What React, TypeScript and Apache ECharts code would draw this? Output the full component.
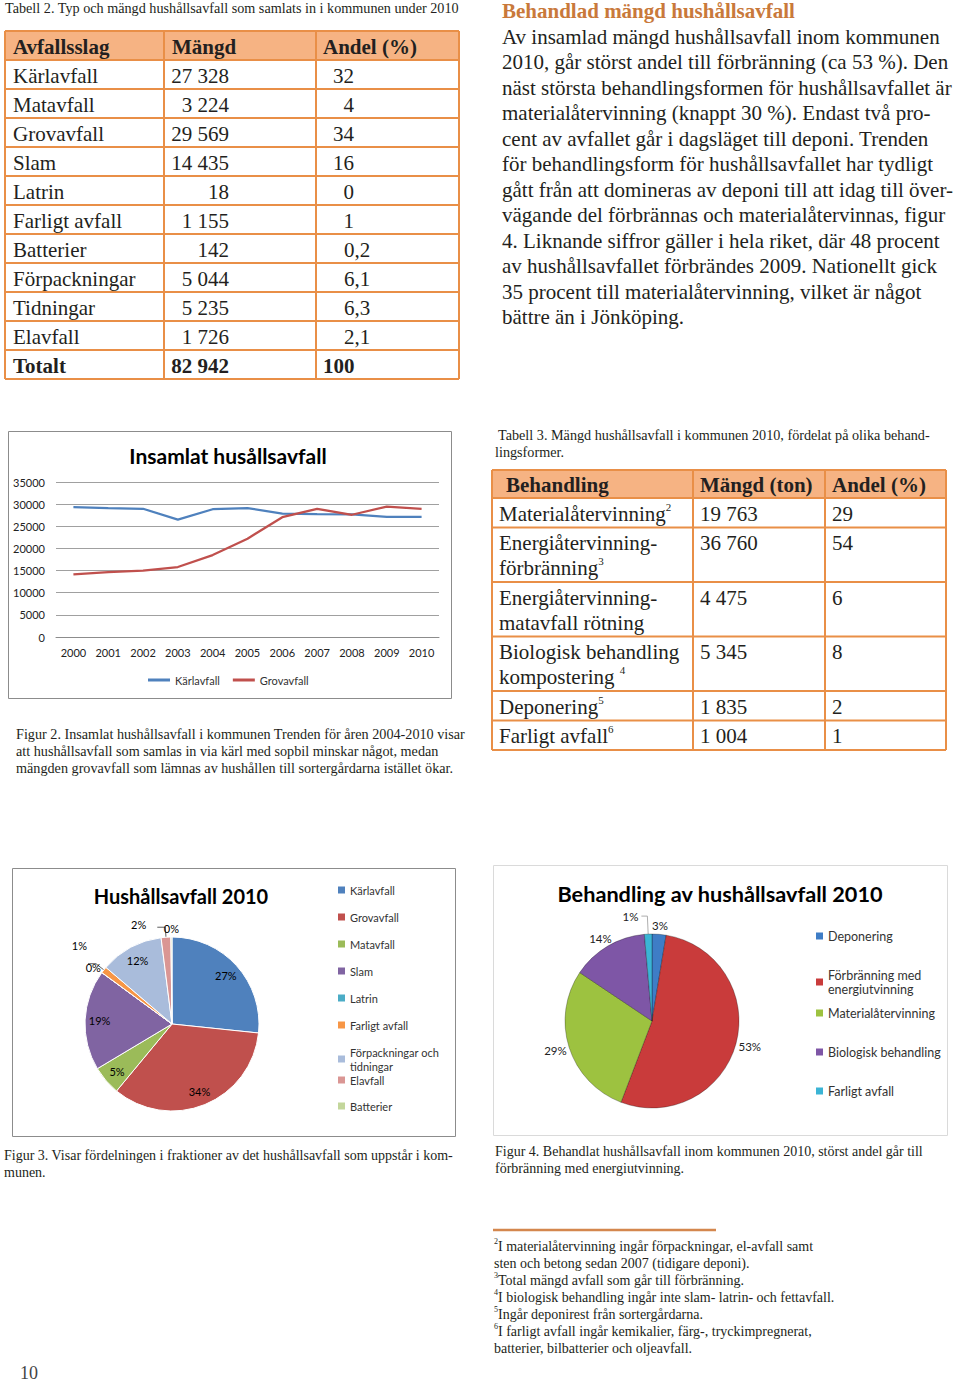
import React, { useEffect, useRef } from "react";
import * as echarts from "echarts";

const SERIF = '"Liberation Serif", "Times New Roman", serif';
const SANS = 'Lato, "Open Sans", sans-serif';
const INK = "#231f20";
const ORANGE_LINE = "#e98f47";
const ORANGE_FILL = "#f6b383";
const HEADING = "#c9793b";

// ---------- Tabell 2 ----------
const t2Caption = "Tabell 2. Typ och mängd hushållsavfall som samlats in i kommunen under 2010";
const t2Header = ["Avfallsslag", "Mängd", "Andel (%)"];
const t2Types = ["Kärlavfall", "Matavfall", "Grovavfall", "Slam", "Latrin", "Farligt avfall", "Batterier", "Förpackningar", "Tidningar", "Elavfall"];
const t2Amounts = ["27 328", "3 224", "29 569", "14 435", "18", "1 155", "142", "5 044", "5 235", "1 726"];
const t2Shares = ["32", "4", "34", "16", "0", "1", "0,2", "6,1", "6,3", "2,1"];
const t2Total = ["Totalt", "82 942", "100"];

// ---------- Side text ----------
const sideHeading = "Behandlad mängd hushållsavfall";
const sideLines = [
  "Av insamlad mängd hushållsavfall inom kommunen",
  "2010, går störst andel till förbränning (ca 53 %). Den",
  "näst största behandlingsformen för hushållsavfallet är",
  "materialåtervinning (knappt 30 %). Endast två pro-",
  "cent av avfallet går i dagsläget till deponi. Trenden",
  "för behandlingsform för hushållsavfallet har tydligt",
  "gått från att domineras av deponi till att idag till över-",
  "vägande del förbrännas och materialåtervinnas, figur",
  "4. Liknande siffror gäller i hela riket, där 48 procent",
  "av hushållsavfallet förbrändes 2009. Nationellt gick",
  "35 procent till materialåtervinning, vilket är något",
  "bättre än i Jönköping.",
];

// ---------- Figur 2 (line chart) ----------
const lineTitle = "Insamlat husållsavfall";
const years = ["2000", "2001", "2002", "2003", "2004", "2005", "2006", "2007", "2008", "2009", "2010"];
const lineNames = ["Kärlavfall", "Grovavfall"];
const karlavfall = [29300, 29100, 28950, 26500, 28850, 29100, 27850, 27750, 27700, 27150, 27100];
const grovavfall = [14150, 14650, 15000, 15800, 18500, 22200, 27050, 28950, 27600, 29450, 28950];
const lineColors = ["#4f81bd", "#c0504d"];
const fig2Caption = [
  "Figur 2. Insamlat hushållsavfall i kommunen Trenden för åren 2004-2010 visar",
  "att hushållsavfall som samlas in via kärl med sopbil minskar något, medan",
  "mängden grovavfall som lämnas av hushållen till sortergårdarna istället ökar.",
];

// ---------- Tabell 3 ----------
const t3Caption = ["Tabell 3. Mängd hushållsavfall i kommunen 2010, fördelat på olika behand-", "lingsformer."];
const t3Header = ["Behandling", "Mängd (ton)", "Andel (%)"];
const t3Treat = [
  ["Materialåtervinning"],
  ["Energiåtervinning-", "förbränning"],
  ["Energiåtervinning-", "matavfall rötning"],
  ["Biologisk behandling", "kompostering "],
  ["Deponering"],
  ["Farligt avfall"],
];
const t3Sup = ["2", "3", "", "4", "5", "6"];
const t3Amounts = ["19 763", "36 760", "4 475", "5 345", "1 835", "1 004"];
const t3Shares = ["29", "54", "6", "8", "2", "1"];

// ---------- Figur 3 (pie) ----------
const pie1Title = "Hushållsavfall 2010";
const pie1Names = ["Kärlavfall", "Grovavfall", "Matavfall", "Slam", "Latrin", "Farligt avfall", "Förpackningar och\ntidningar", "Elavfall", "Batterier"];
const pie1Values = [26.6, 34.3, 5.4, 18.6, 0.02, 1.2, 11.7, 1.8, 0.2];
const pie1Colors = ["#4f81bd", "#c0504d", "#9bbb59", "#8064a2", "#4bacc6", "#f79646", "#a9bcdb", "#da9694", "#c3d69b"];
const fig3Caption = ["Figur 3. Visar fördelningen i fraktioner av det hushållsavfall som uppstår i kom-", "munen."];

// ---------- Figur 4 (pie) ----------
const pie2Title = "Behandling av hushållsavfall 2010";
const pie2Names = ["Deponering", "Förbränning med\nenergiutvinning", "Materialåtervinning", "Biologisk behandling", "Farligt avfall"];
const pie2Values = [2.6, 53.2, 28.6, 14.2, 1.4];
const pie2Colors = ["#3e7dc6", "#c93b3b", "#9dc240", "#7e56a6", "#3bb4d5"];
const fig4Caption = ["Figur 4. Behandlat hushållsavfall inom kommunen 2010, störst andel går till", "förbränning med energiutvinning."];

// ---------- Footnotes ----------
const footnotes = [
  { sup: "2", lines: ["I materialåtervinning ingår förpackningar, el-avfall samt", "sten och betong sedan 2007 (tidigare deponi)."] },
  { sup: "3", lines: ["Total mängd avfall som går till förbränning."] },
  { sup: "4", lines: ["I biologisk behandling ingår inte slam- latrin- och fettavfall."] },
  { sup: "5", lines: ["Ingår deponirest från sortergårdarna."] },
  { sup: "6", lines: ["I farligt avfall ingår kemikalier, färg-, tryckimpregnerat,", "batterier, bilbatterier och oljeavfall."] },
];
const pageNumber = "10";

// layout constants (not data)
const PIE1 = { cx: 172, cy: 1024, r: 87 };
const PIE2 = { cx: 652, cy: 1021, r: 87 };
const pie1LeaderNudge: Record<number, number[]> = { 5: [1, -18], 7: [-9, -3] };

// Places a label just outside the slice's mid-angle (Excel "outside end" style)
function outsidePos(p: { cx: number; cy: number; r: number }, values: number[], idx: number, gap: number, w: number, h: number) {
  const sum = values.reduce((a, b) => a + b, 0);
  let cum = 0;
  for (let i = 0; i < idx; i++) cum += values[i];
  const a = ((cum + values[idx] / 2) / sum) * 2 * Math.PI;
  const dx = Math.sin(a);
  const dy = -Math.cos(a);
  return { x: p.cx + dx * (p.r + gap) + (dx * w) / 2, y: p.cy + dy * (p.r + gap) + (dy * h) / 2 };
}

function buildGraphic() {
  const g: any[] = [];
  const text = (x: number, y: number, s: string, o: any = {}) =>
    g.push({
      type: "text",
      x,
      y,
      silent: true,
      style: {
        text: s,
        fontFamily: o.family || SERIF,
        fontSize: o.size || 21,
        fontWeight: o.weight || "normal",
        fill: o.color || INK,
        align: o.align || "left",
        verticalAlign: "middle",
      },
    });
  const line = (x1: number, y1: number, x2: number, y2: number, color: string, w: number) =>
    g.push({ type: "line", silent: true, shape: { x1, y1, x2, y2 }, style: { stroke: color, lineWidth: w } });
  const box = (x: number, y: number, w: number, h: number, color: string) =>
    g.push({ type: "rect", silent: true, shape: { x, y, width: w, height: h }, style: { fill: "none", stroke: color, lineWidth: 1 } });

  // Tabell 2
  text(5, 8, t2Caption, { size: 14.2 });
  const c2 = [5, 164, 316, 459];
  const top2 = 31;
  const rh2 = 29;
  const nRows2 = t2Types.length + 2;
  g.push({ type: "rect", silent: true, shape: { x: c2[0], y: top2, width: c2[3] - c2[0], height: rh2 }, style: { fill: ORANGE_FILL } });
  for (let k = 0; k <= nRows2; k++) line(c2[0], top2 + k * rh2, c2[3], top2 + k * rh2, ORANGE_LINE, 2);
  c2.forEach((x) => line(x, top2, x, top2 + nRows2 * rh2, ORANGE_LINE, 2));
  const hy = top2 + rh2 / 2 + 1;
  text(13, hy, t2Header[0], { weight: "bold" });
  text(172, hy, t2Header[1], { weight: "bold" });
  text(323, hy, t2Header[2], { weight: "bold" });
  const share = (y: number, s: string) => {
    if (s.indexOf(",") >= 0) text(344, y, s);
    else text(354, y, s, { align: "right" });
  };
  t2Types.forEach((t, i) => {
    const y = top2 + rh2 * (i + 1) + rh2 / 2 + 1;
    text(13, y, t);
    text(229, y, t2Amounts[i], { align: "right" });
    share(y, t2Shares[i]);
  });
  const ty = top2 + rh2 * (t2Types.length + 1) + rh2 / 2 + 1;
  text(13, ty, t2Total[0], { weight: "bold" });
  text(229, ty, t2Total[1], { weight: "bold", align: "right" });
  text(323, ty, t2Total[2], { weight: "bold" });

  // Side text
  text(502, 11, sideHeading, { weight: "bold", color: HEADING });
  sideLines.forEach((s, i) => text(502, 37 + i * 25.45, s));

  // Figur 2 box, title, caption
  box(8.5, 431.5, 443, 267, "#8c8c8c");
  text(228, 455, lineTitle, { family: SANS, size: 21, weight: "bold", color: "#000", align: "center" });
  fig2Caption.forEach((s, i) => text(16, 734 + i * 17, s, { size: 14.2 }));

  // Tabell 3
  text(498, 435, t3Caption[0], { size: 14.2 });
  text(495, 452, t3Caption[1], { size: 14.2 });
  const c3 = [492, 693, 825, 946];
  const top3 = 470;
  const hh3 = 28;
  g.push({ type: "rect", silent: true, shape: { x: c3[0], y: top3, width: c3[3] - c3[0], height: hh3 }, style: { fill: ORANGE_FILL } });
  text(506, top3 + hh3 / 2 + 1, t3Header[0], { weight: "bold" });
  text(700, top3 + hh3 / 2 + 1, t3Header[1], { weight: "bold" });
  text(832, top3 + hh3 / 2 + 1, t3Header[2], { weight: "bold" });
  const ys = [top3, top3 + hh3];
  let y = top3 + hh3;
  t3Treat.forEach((lines, i) => {
    const h = lines.length === 1 ? 29.5 : 54.5;
    const rich = lines
      .map((l, j) => "{a|" + l + "}" + (j === lines.length - 1 && t3Sup[i] ? "{s|" + t3Sup[i] + "}" : ""))
      .join("\n");
    g.push({
      type: "text",
      x: 499,
      y: y + 3,
      silent: true,
      style: {
        text: rich,
        align: "left",
        verticalAlign: "top",
        rich: {
          a: { fontFamily: SERIF, fontSize: 21, fill: INK, lineHeight: 25 },
          s: { fontFamily: SERIF, fontSize: 11, fill: INK, lineHeight: 14, verticalAlign: "top" },
        },
      },
    });
    text(700, y + 15.5, t3Amounts[i]);
    text(832, y + 15.5, t3Shares[i]);
    y += h;
    ys.push(y);
  });
  ys.forEach((yy) => line(c3[0], yy, c3[3], yy, ORANGE_LINE, 2));
  c3.forEach((x) => line(x, top3, x, y, ORANGE_LINE, 2));

  // Pie boxes and titles
  box(12.5, 868.5, 443, 268, "#8c8c8c");
  text(181, 896, pie1Title, { family: SANS, size: 20, weight: "bold", color: "#000", align: "center" });
  box(493.5, 865.5, 454, 270, "#dadada");
  text(720, 894, pie2Title, { family: SANS, size: 21.7, weight: "bold", color: "#000", align: "center" });

  // Captions
  fig3Caption.forEach((s, i) => text(4, 1155 + i * 17, s, { size: 14 }));
  fig4Caption.forEach((s, i) => text(495, 1151 + i * 17, s, { size: 14 }));

  // Footnotes
  line(493, 1230, 716, 1230, "#d4874e", 2.5);
  let fy = 1246;
  footnotes.forEach((f) => {
    f.lines.forEach((l, j) => {
      if (j === 0) {
        g.push({
          type: "text",
          x: 494,
          y: fy,
          silent: true,
          style: {
            text: "{s|" + f.sup + "}{t|" + l + "}",
            align: "left",
            verticalAlign: "middle",
            rich: {
              t: { fontFamily: SERIF, fontSize: 14, fill: INK, lineHeight: 17 },
              s: { fontFamily: SERIF, fontSize: 8, fill: INK, lineHeight: 10, verticalAlign: "top" },
            },
          },
        });
      } else {
        text(494, fy, l, { size: 14 });
      }
      fy += 17;
    });
  });

  text(20, 1373, pageNumber, { size: 18, color: "#444" });
  return g;
}

function buildOption() {
  const legendText = { fontFamily: SANS, fontSize: 11, color: "#333", lineHeight: 14 };
  const pieLegend = (names: string[], colors: string[], left: number, top: number, gap: number, fs: number) => ({
    orient: "vertical",
    left,
    top,
    padding: 0,
    itemGap: gap,
    icon: "rect",
    itemWidth: 7,
    itemHeight: 7,
    selectedMode: false,
    itemStyle: { borderWidth: 0 },
    textStyle: { ...legendText, fontSize: fs },
    data: names.map((n, i) => ({ name: n, itemStyle: { color: colors[i], borderWidth: 0 } })),
  });

  return {
    animation: false,
    backgroundColor: "#ffffff",
    graphic: { elements: buildGraphic() },
    grid: [{ left: 56, top: 482, width: 383, height: 155 }],
    xAxis: [
      {
        type: "category",
        gridIndex: 0,
        data: years,
        boundaryGap: true,
        axisTick: { show: false },
        axisLine: { lineStyle: { color: "#8c8c8c" } },
        axisLabel: { fontFamily: SANS, fontSize: 11, color: "#222", margin: 10, interval: 0 },
      },
    ],
    yAxis: [
      {
        type: "value",
        gridIndex: 0,
        min: 0,
        max: 35000,
        interval: 5000,
        axisLine: { show: false },
        axisTick: { show: false },
        axisLabel: { fontFamily: SANS, fontSize: 11, color: "#222", margin: 11, formatter: (v: number) => String(v) },
        splitLine: { lineStyle: { color: "#a0a0a0" } },
      },
    ],
    legend: [
      {
        left: 148,
        top: 673,
        padding: 0,
        icon: "rect",
        itemWidth: 22,
        itemHeight: 3,
        itemGap: 13,
        selectedMode: false,
        textStyle: legendText,
        formatter: (n: string) => n.replace(/^L:/, ""),
        data: lineNames.map((n) => "L:" + n),
      },
      pieLegend(pie1Names.slice(0, 7), pie1Colors.slice(0, 7), 338, 883, 13, 11),
      pieLegend(pie1Names.slice(7), pie1Colors.slice(7), 338, 1073, 12, 11),
      pieLegend(pie2Names.slice(0, 2), pie2Colors.slice(0, 2), 816, 929, 25, 12.5),
      pieLegend(pie2Names.slice(2), pie2Colors.slice(2), 816, 1006, 25, 12.5),
    ],
    series: [
      {
        type: "line",
        name: "L:" + lineNames[0],
        xAxisIndex: 0,
        yAxisIndex: 0,
        data: karlavfall,
        showSymbol: false,
        lineStyle: { color: lineColors[0], width: 2.25 },
        itemStyle: { color: lineColors[0] },
      },
      {
        type: "line",
        name: "L:" + lineNames[1],
        xAxisIndex: 0,
        yAxisIndex: 0,
        data: grovavfall,
        showSymbol: false,
        lineStyle: { color: lineColors[1], width: 2.25 },
        itemStyle: { color: lineColors[1] },
      },
      {
        type: "pie",
        name: "Hushållsavfall 2010",
        center: [PIE1.cx, PIE1.cy],
        radius: PIE1.r,
        startAngle: 90,
        silent: true,
        label: { show: false },
        labelLine: { show: false },
        itemStyle: { borderColor: "#ffffff", borderWidth: 1 },
        emphasis: { disabled: true },
        data: pie1Names.map((n, i) => ({ name: n, value: pie1Values[i], itemStyle: { color: pie1Colors[i] } })),
      },
      {
        type: "pie",
        name: "Hushållsavfall 2010 etiketter",
        center: [PIE1.cx, PIE1.cy],
        radius: [52, PIE1.r],
        startAngle: 90,
        silent: true,
        percentPrecision: 0,
        avoidLabelOverlap: false,
        emphasis: { disabled: true },
        itemStyle: { color: "rgba(0,0,0,0)", borderWidth: 0 },
        label: { show: true, position: "inside", formatter: "{d}%", fontFamily: SANS, fontSize: 11, color: "#000" },
        labelLine: { show: false, length: 10, length2: 8, lineStyle: { color: "#333", width: 0.8 } },
        labelLayout: (params: any) => {
          const i = params.dataIndex;
          const v = pie1Values[i];
          if (v >= 2.5) return {};
          if (v < 1) {
            const p = outsidePos(PIE1, pie1Values, i, 3, params.labelRect.width, params.labelRect.height);
            return { x: p.x, y: p.y, align: "center", verticalAlign: "middle" };
          }
          const n = pie1LeaderNudge[i] || [0, 0];
          return { dx: n[0], dy: n[1] };
        },
        data: pie1Names.map((n, i) => {
          const small = pie1Values[i] < 2.5;
          return {
            name: n,
            value: pie1Values[i],
            itemStyle: { color: "rgba(0,0,0,0)" },
            label: small ? { position: "outside", distanceToLabelLine: 2 } : undefined,
            labelLine: small ? { show: pie1Values[i] >= 1 } : undefined,
          };
        }),
      },
      {
        type: "pie",
        name: "Behandling av hushållsavfall 2010",
        center: [PIE2.cx, PIE2.cy],
        radius: PIE2.r,
        startAngle: 90,
        silent: true,
        percentPrecision: 0,
        avoidLabelOverlap: false,
        emphasis: { disabled: true },
        itemStyle: { borderColor: "rgba(0,0,0,0.35)", borderWidth: 0.8 },
        label: { show: true, position: "outside", formatter: "{d}%", fontFamily: SANS, fontSize: 11.5, color: "#222", distanceToLabelLine: 3 },
        labelLine: { show: false, length: 6, length2: 0 },
        labelLayout: (params: any) => {
          const i = params.dataIndex;
          if (pie2Values[i] < 2) return {};
          const p = outsidePos(PIE2, pie2Values, i, 3, params.labelRect.width, params.labelRect.height);
          return { x: p.x, y: p.y, align: "center", verticalAlign: "middle" };
        },
        data: pie2Names.map((n, i) => {
          const small = pie2Values[i] < 2;
          return {
            name: n,
            value: pie2Values[i],
            itemStyle: { color: pie2Colors[i] },
            labelLine: small ? { show: true, length: 18, length2: 6, lineStyle: { color: "#999", width: 0.8 } } : undefined,
          };
        }),
      },
    ],
  };
}

export default function App() {
  const ref = useRef<HTMLDivElement>(null);
  useEffect(() => {
    document.body.style.margin = "0";
    const chart = echarts.init(ref.current as HTMLDivElement, null, { renderer: "svg" });
    chart.setOption(buildOption() as any);
    return () => {
      chart.dispose();
    };
  }, []);
  return <div ref={ref} style={{ width: 960, height: 1385, background: "#fff" }} />;
}
